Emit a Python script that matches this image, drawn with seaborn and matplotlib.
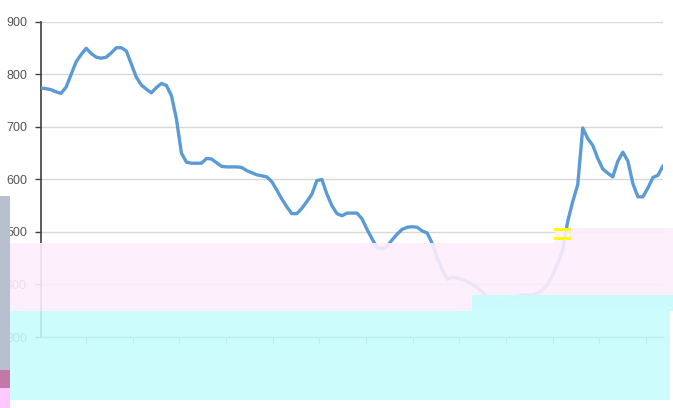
import matplotlib
matplotlib.use("Agg")
import matplotlib.pyplot as plt
import seaborn as sns
import pandas as pd
import numpy as np
from matplotlib.patches import Rectangle

# ---- data (index = sample number) ----
values = [
    774, 773, 771, 767, 764, 776, 800, 824, 838, 850,
    840, 833, 831, 833, 841, 851, 851, 845, 820, 795,
    780, 772, 765, 775, 783, 779, 760, 715, 650, 633,
    631, 631, 631, 640, 639, 632, 625, 624, 624, 624,
    623, 617, 613, 609, 607, 605, 596, 580, 563, 548,
    535, 535, 545, 558, 572, 598, 600, 572, 550, 535,
    531, 536, 536, 536, 525, 505, 487, 470, 468, 473,
    485, 496, 505, 509, 510, 509, 502, 498, 478, 450,
    428, 410, 414, 412, 409, 405, 400, 394, 385, 376,
    369, 366, 365, 367, 372, 377, 380, 380, 380, 383,
    390, 400, 418, 440, 465, 520, 558, 590, 698, 678,
    665, 640, 620, 612, 605, 635, 652, 635, 592, 567,
    567, 584, 604, 608, 626,
]
y_ticks = [300, 400, 500, 600, 700, 800, 900]

df = pd.DataFrame({"idx": np.arange(len(values)), "value": values})

sns.set_theme(style="white")
plt.rcParams["font.family"] = ["Liberation Sans", "DejaVu Sans"]

fig = plt.figure(figsize=(6.73, 4.08), dpi=100)
ax = fig.add_axes([41 / 673, 1 - 337 / 408, 622 / 673, 315 / 408])

sns.lineplot(data=df, x="idx", y="value", ax=ax, color="#5b9bd5",
             linewidth=2.4, zorder=3)

ax.set_xlim(0, len(values) - 1)
ax.set_ylim(300, 900)
ax.set_yticks(y_ticks)
ax.set_yticklabels([str(t) for t in y_ticks], fontsize=9, color="#555555")
ax.yaxis.grid(True, color="#d9d9d9", linewidth=1.0)
ax.xaxis.grid(False)
ax.set_axisbelow(True)
ax.set_xlabel("")
ax.set_ylabel("")

xt = np.arange(9.0, len(values), 9.3)
ax.set_xticks(xt)
ax.set_xticklabels([])

for s in ["top", "right"]:
    ax.spines[s].set_visible(False)
ax.spines["left"].set_color("#404040")
ax.spines["left"].set_linewidth(1.2)
ax.spines["bottom"].set_color("#7a9a9a")
ax.spines["bottom"].set_linewidth(1.0)
ax.tick_params(axis="y", which="both", left=True, length=4, width=1,
               color="#404040", pad=6)
ax.tick_params(axis="x", which="both", bottom=True, length=4, width=0.8,
               color="#7a9a9a")

# ---- colored overlay blocks present in the reference image ----
W, H = 673.0, 408.0


def block(x0, y0, x1, y1, color, alpha=1.0):
    fig.patches.append(Rectangle((x0 / W, 1 - y1 / H), (x1 - x0) / W,
                                 (y1 - y0) / H, transform=fig.transFigure,
                                 facecolor=color, edgecolor="none",
                                 alpha=alpha, zorder=10))


PINK = (253 / 255, 238 / 255, 252 / 255)
CYAN = (197 / 255, 252 / 255, 252 / 255)
block(7, 243, 673, 311, PINK, 0.9)
block(555, 228, 673, 243, PINK, 0.9)
block(3, 311, 670, 400, CYAN, 0.88)
block(472, 295, 673, 311, CYAN, 0.88)
block(0, 196, 10, 370, (184 / 255, 192 / 255, 208 / 255))
block(0, 370, 10, 388, (196 / 255, 120 / 255, 170 / 255))
block(0, 388, 10, 408, (255 / 255, 200 / 255, 255 / 255))
block(554, 228, 571, 231, (1, 1, 0))
block(554, 237, 571, 240, (1, 1, 0))

fig.savefig("out.png", dpi=100)
